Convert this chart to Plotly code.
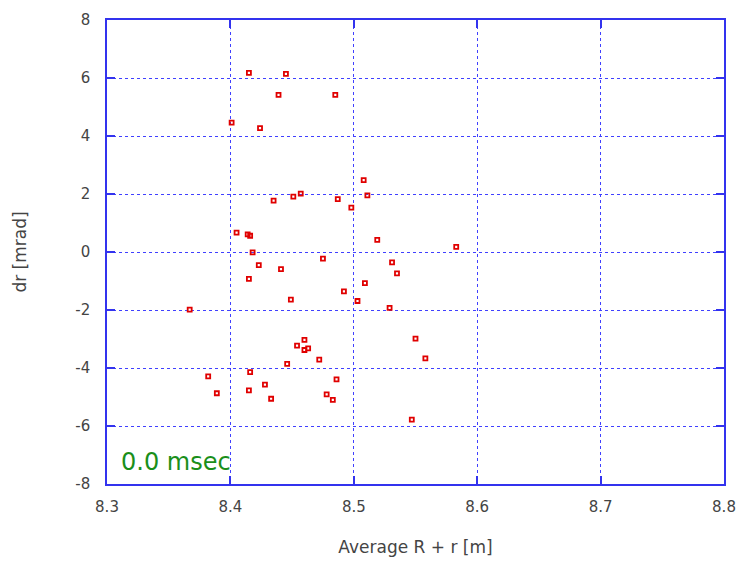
import plotly.graph_objects as go

x_vals = [8.415, 8.445, 8.439, 8.485, 8.401, 8.424, 8.508, 8.511, 8.457, 8.451,
          8.435, 8.487, 8.498, 8.405, 8.414, 8.416, 8.519, 8.418, 8.475, 8.583,
          8.423, 8.441, 8.531, 8.535, 8.415, 8.509, 8.492, 8.503, 8.449, 8.367,
          8.529, 8.550, 8.460, 8.454, 8.460, 8.463, 8.472, 8.446, 8.416, 8.382,
          8.486, 8.428, 8.389, 8.415, 8.478, 8.433, 8.483, 8.547, 8.558]
y_vals = [6.18, 6.14, 5.42, 5.42, 4.46, 4.27, 2.48, 1.95, 2.01, 1.91,
          1.77, 1.82, 1.53, 0.67, 0.61, 0.56, 0.42, -0.01, -0.23, 0.18,
          -0.45, -0.59, -0.36, -0.74, -0.93, -1.07, -1.36, -1.69, -1.64, -1.99,
          -1.93, -2.99, -3.03, -3.23, -3.38, -3.32, -3.71, -3.86, -4.14, -4.29,
          -4.39, -4.57, -4.87, -4.77, -4.91, -5.06, -5.10, -5.78, -3.67]

x_ticks = [8.3, 8.4, 8.5, 8.6, 8.7, 8.8]
y_ticks = [-8, -6, -4, -2, 0, 2, 4, 6, 8]
label_text = "0.0 msec"

blue = "#3333ee"
font_fam = "DejaVu Sans"
fig = go.Figure()
fig.add_trace(go.Scatter(
    x=x_vals, y=y_vals, mode="markers",
    marker=dict(symbol="square-open", size=4, color="#e00000",
                line=dict(color="#e00000", width=1.8)),
    showlegend=False, cliponaxis=False))

axis_common = dict(
    showline=True, linecolor=blue, linewidth=1.5, mirror="ticks",
    showgrid=True, gridcolor="#4040ff", griddash="dot", gridwidth=1,
    ticks="inside", ticklen=8, tickcolor=blue, tickwidth=2,
    zeroline=False, automargin=False,
    tickfont=dict(family=font_fam, size=15, color="#444444"),
)

fig.update_layout(
    width=741, height=567,
    margin=dict(l=107, r=17, t=20, b=83),
    plot_bgcolor="white", paper_bgcolor="white",
    xaxis=dict(range=[8.3, 8.8], tickvals=x_ticks, ticktext=[f"{v:.1f}" for v in x_ticks],
               ticklabelstandoff=8,
               title=dict(text="Average R + r [m]", standoff=26,
                          font=dict(family=font_fam, size=17, color="#444444")),
               **axis_common),
    yaxis=dict(range=[-8, 8], tickvals=y_ticks, ticktext=[str(v) for v in y_ticks],
               ticklabelstandoff=12,
               title=dict(text="dr [mrad]", standoff=44,
                          font=dict(family=font_fam, size=17, color="#444444")),
               **axis_common),
    annotations=[dict(text=label_text, xref="paper", yref="paper", x=0.02, y=0.014,
                      xanchor="left", yanchor="bottom", showarrow=False,
                      font=dict(family=font_fam, size=24, color="#1a8f1a"))],
)

fig.write_html("out.html")
